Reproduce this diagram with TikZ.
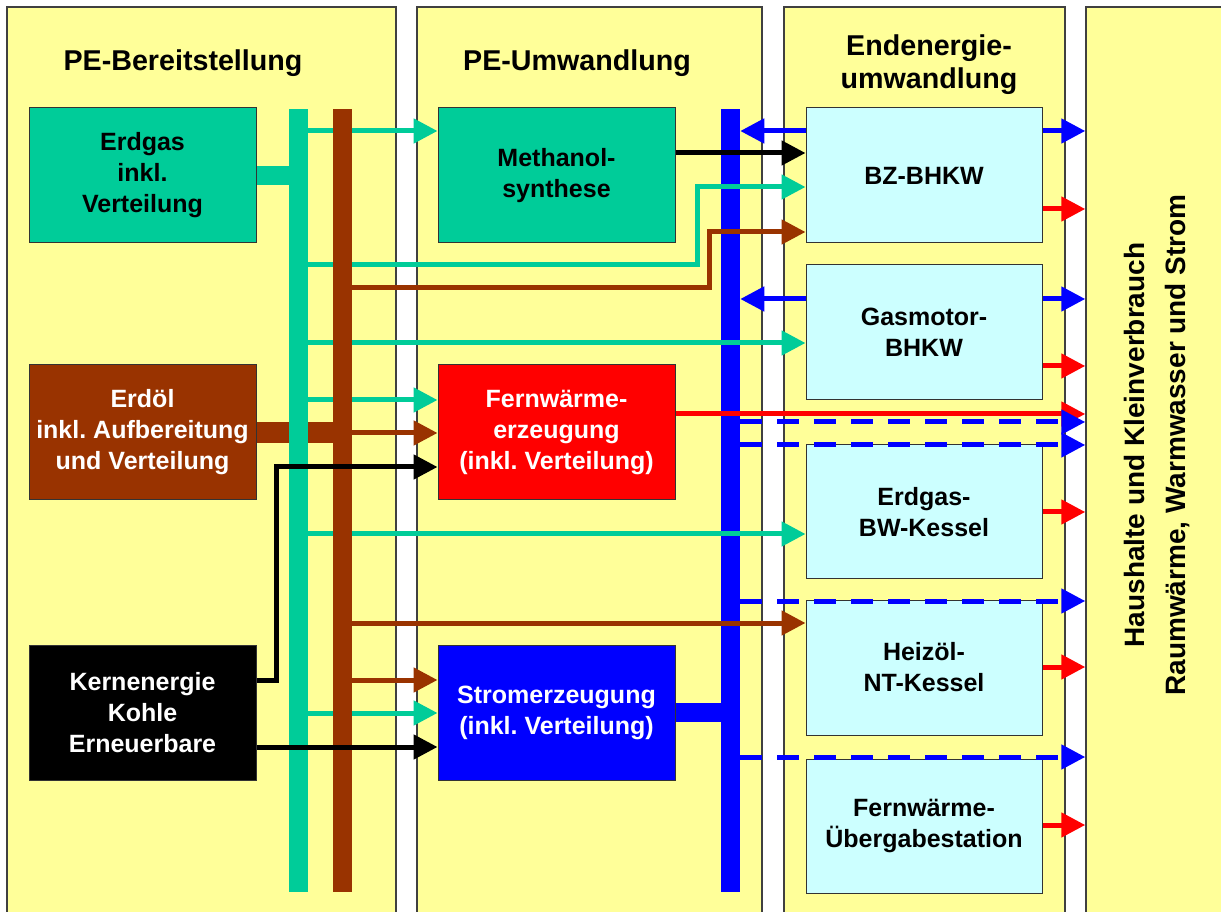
\documentclass[tikz,border=0pt]{standalone}
\usepackage{fontspec}
\setmainfont{Liberation Sans}
\usetikzlibrary{arrows.meta,positioning,calc}
\definecolor{paneyellow}{HTML}{FFFF99}
\definecolor{gasgreen}{HTML}{00CC99}
\definecolor{oilbrown}{HTML}{993300}
\definecolor{boxcyan}{HTML}{CCFFFF}
\definecolor{framegray}{HTML}{404040}
\pgfdeclarelayer{back}
\pgfdeclarelayer{under}
\pgfsetlayers{back,under,main}
\frenchspacing
\newcommand{\boxfont}{\fontsize{18.75}{23.25}\selectfont\bfseries}
\newcommand{\headfont}{\fontsize{21.5}{24.75}\selectfont\bfseries}

\begin{document}
\begin{tikzpicture}[x=0.75pt,y=-0.75pt,
    panel/.style={draw=framegray,line width=1.1pt,fill=paneyellow,minimum width=#1,minimum height=699.75pt,inner sep=0pt},
    head/.style={font=\headfont,align=center},
    bar/.style={fill=#1,minimum width=14.25pt,minimum height=587.25pt,inner sep=0pt},
    box/.style={draw=black!80,line width=0.75pt,minimum height=101.25pt,align=center,font=\boxfont,inner sep=0pt},
    lbox/.style={box,minimum width=170.25pt},
    mbox/.style={box,minimum width=177.75pt},
    rbox/.style={box,fill=boxcyan,minimum width=177pt},
    flow/.style={line width=3.75pt,-{Triangle[length=18pt,width=18pt]}},
    dashflow/.style={flow,dash pattern=on 16.5pt off 11.25pt},
    band/.style={line width=14.25pt}]
    \useasboundingbox (0,0) rectangle (1221,912);
    \clip (0,0) rectangle (1221,912);

    % Columns
    \begin{pgfonlayer}{back}
        \node[panel=291.75pt] (p1) at (201.5,473.5) {};
        \node[panel=258.75pt] (p2) at (589.5,473.5) {};
        \node[panel=210.75pt] (p3) at (924.5,473.5) {};
        \node[panel=115.5pt]  (p4) at (1163,473.5) {};
        \node[head] (h1) at (183,63) {PE-Bereitstellung};
        \node[head] (h2) at (577,63) {PE-Umwandlung};
        \node[head] (h3) at (929,65) {Endenergie-\\umwandlung};
        \node[head,rotate=90,font=\fontsize{21}{31}\selectfont\bfseries] (h4) at (1157,445)
            {Haushalte und Kleinverbrauch\\Raumwärme, Warmwasser und Strom};
        \node[bar=blue] (blbar) at (730.5,500.5) {};
    \end{pgfonlayer}

    % Collecting bars
    \node[bar=gasgreen] (tbar) at (298.5,500.5) {};
    \node[bar=oilbrown] (bbar) at (342,500.5) {};

    % Primary energy
    \node[lbox,fill=gasgreen] (erdgas) at (142.5,175.5) {Erdgas\\inkl.\\Verteilung};
    \node[lbox,fill=oilbrown,text=white] (erdoel) at (142.5,432.5) {Erdöl\\inkl. Aufbereitung\\und Verteilung};
    \node[lbox,fill=black,text=white] (kern) at (142.5,712.5) {Kernenergie\\Kohle\\Erneuerbare};

    % Conversion
    \node[mbox,fill=gasgreen] (meth) at (556.5,175.5) {Methanol-\\synthese};
    \node[mbox,fill=red,text=white] (fern) at (556.5,432.5) {Fernwärme-\\erzeugung\\(inkl. Verteilung)};
    \node[mbox,fill=blue,text=white] (strom) at (556.5,712.5) {Stromerzeugung\\(inkl. Verteilung)};

    % Final energy conversion
    \node[rbox] (bz) at (924,175.5) {BZ-BHKW};
    \node[rbox] (gas) at (924,332.5) {Gasmotor-\\BHKW};
    \node[rbox,minimum height=100.5pt] (bw) at (924,512) {Erdgas-\\BW-Kessel};
    \node[rbox] (heiz) at (924,667.5) {Heizöl-\\NT-Kessel};
    \node[rbox,minimum height=100.5pt] (ueber) at (924,826) {Fernwärme-\\Übergabestation};

    % Gas and oil lines below the bars
    \begin{pgfonlayer}{under}
        \draw[band,gasgreen] (erdgas.east) -- (erdgas.east -| tbar.west);
        \draw[line width=16pt,oilbrown] (erdoel.east) -- (erdoel.east -| bbar.east);
        \foreach \y/\b in {131/meth,343/gas,400/fern,534/bw,713/strom} {
            \draw[flow,gasgreen] (tbar.east |- 0,\y) -- (\b.west |- 0,\y);
        }
        \draw[flow,gasgreen] (tbar.east |- 0,265) -- (697,265) -- (697,187) -- (bz.west |- 0,187);
    \end{pgfonlayer}

    % Oil lines
    \foreach \y/\b in {433/fern,623/heiz,680/strom} {
        \draw[flow,oilbrown] (bbar.east |- 0,\y) -- (\b.west |- 0,\y);
    }
    \draw[flow,oilbrown] (bbar.east |- 0,288) -- (709,288) -- (709,232) -- (bz.west |- 0,232);

    % Other primary energy
    \draw[flow] (kern.east |- 0,680) -- (276,680) -- (276,467) -- (fern.west |- 0,467);
    \draw[flow] (kern.east |- 0,747) -- (strom.west |- 0,747);
    \draw[flow] (meth.east |- 0,153) -- (bz.west |- 0,153);

    % Electricity and district heat
    \draw[band,blue] (strom.east) -- (strom.east -| blbar.west);
    \draw[flow,blue] (bz.west |- 0,131) -- (blbar.east |- 0,131);
    \draw[flow,blue] (gas.west |- 0,299) -- (blbar.east |- 0,299);
    \draw[flow,red] (fern.east |- 0,414) -- (p4.west |- 0,414);
    \foreach \y in {422,445,601,757} {
        \draw[dashflow,blue] (blbar.east |- 0,\y) -- (p4.west |- 0,\y);
    }

    % Supply to households
    \foreach \b/\y/\c in {bz/131/blue,bz/209/red,gas/299/blue,gas/366/red,bw/512/red,heiz/667/red,ueber/825/red} {
        \draw[flow,\c] (\b.east |- 0,\y) -- (p4.west |- 0,\y);
    }
\end{tikzpicture}
\end{document}
